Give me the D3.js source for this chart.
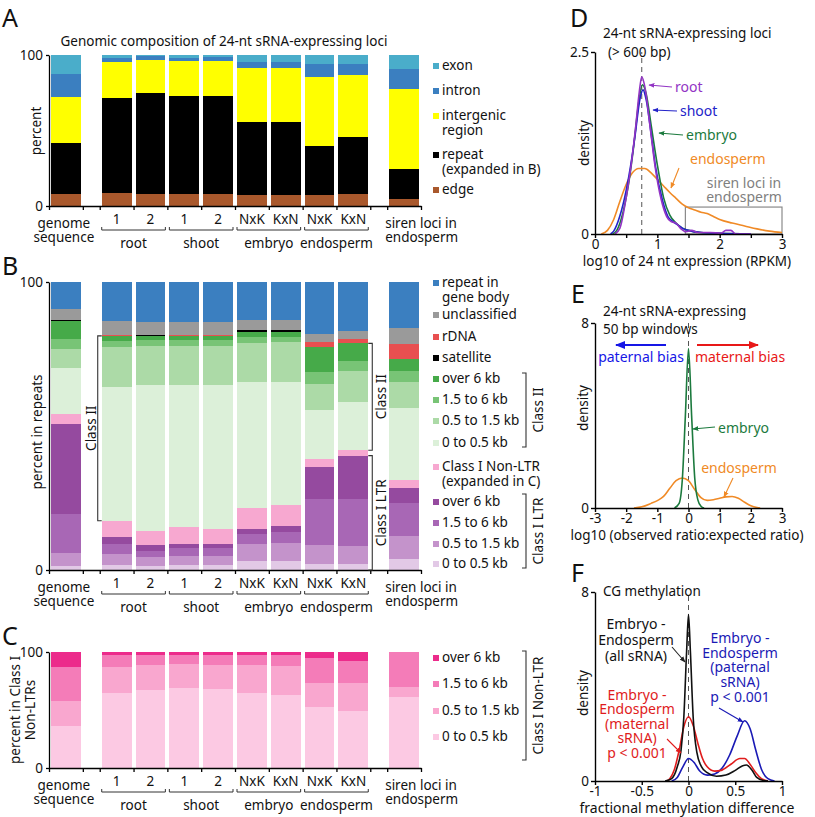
<!DOCTYPE html>
<html><head><meta charset="utf-8">
<script src="https://cdn.jsdelivr.net/npm/d3@7"></script>
<style>body{margin:0;background:#fff} svg text{font-family:"Noto Sans",sans-serif;}</style>
</head><body><svg id="c" width="815" height="817"></svg>
<script>
// ---------- DATA ----------
const categories = ["genome sequence","root 1","root 2","shoot 1","shoot 2","embryo NxK","embryo KxN","endosperm NxK","endosperm KxN","siren loci in endosperm"];
const tickLabels = ["","1","2","1","2","NxK","KxN","NxK","KxN",""];
const groupLabels = ["root","shoot","embryo","endosperm"];

// Panel A (percent, bottom to top)
const aEdge       = [7.7, 8.6, 7.7, 7.7, 7.7, 7.1, 7.1, 7.1, 7.7, 4.6];
const aRepeat     = [33.7,63.1,67.1,65.3,65.3,48.7,48.2,32.7,38.3,20.2];
const aIntergenic = [30.9,23.4,21.9,23.0,22.8,35.8,36.3,45.6,40.7,52.6];
const aIntron     = [15.1,2.7, 2.6, 2.2, 3.1, 3.5, 3.5, 8.4, 7.1, 13.3];
const aExon       = [12.6,2.2, 0.7, 1.8, 1.1, 4.9, 4.9, 6.2, 6.2, 9.3];
const aLegend = ["exon","intron","intergenic|region","repeat|(expanded in B)","edge"];

// Panel B (percent in repeats, bottom to top)
const bLTR0   = [1.4, 1.7, 1.4, 1.7, 1.7, 3.0, 3.0, 2.1, 2.1, 3.8];
const bLTR05  = [4.4, 3.7, 3.2, 3.3, 3.3, 6.1, 6.5, 6.6, 6.2, 8.1];
const bLTR15  = [13.5,3.6, 2.0, 2.5, 2.5, 3.3, 3.7, 15.9,16.2,11.5];
const bLTR6   = [31.3,2.6, 2.1, 1.6, 1.6, 1.9, 2.1, 11.2,15.2,4.9];
const bNonLTR = [3.4, 5.5, 4.9, 5.7, 5.2, 7.4, 7.2, 2.7, 1.9, 2.9];
const bII0    = [16.2,46.6,50.6,49.4,49.9,43.5,42.7,17.0,16.7,25.2];
const bII05   = [6.6, 13.9,13.7,13.5,13.7,13.6,14.0,9.0, 10.7,8.9];
const bII15   = [3.3, 1.9, 2.0, 2.1, 2.0, 2.2, 1.8, 4.2, 3.6, 3.7];
const bII6    = [6.4, 1.8, 1.3, 1.6, 1.5, 1.8, 1.8, 8.9, 6.1, 4.1];
const bSat    = [0.3, 0,   0.3, 0,   0,   0.4, 0.4, 0,   0,   0];
const bRDNA   = [0,   0.4, 0,   0.3, 0.3, 0,   0,   1.6, 1.4, 5.4];
const bUncl   = [3.7, 4.8, 4.5, 4.3, 4.3, 3.7, 3.7, 2.8, 2.9, 5.5];
const bGene   = [9.5, 13.5,14.0,14.0,14.0,13.1,13.1,18.0,17.0,16.0];
const bLegend = ["repeat in|gene body","unclassified","rDNA","satellite","over 6 kb","1.5 to 6 kb","0.5 to 1.5 kb","0 to 0.5 kb","Class I Non-LTR|(expanded in C)","over 6 kb","1.5 to 6 kb","0.5 to 1.5 kb","0 to 0.5 kb"];

// Panel C (percent in Class I Non-LTRs, bottom to top)
const c0  = [36.3,64.9,66.9,68.6,67.7,64.9,62.9,52.9,49.1,61.0];
const c05 = [21.7,22.0,22.0,20.8,21.2,24.0,24.8,20.0,23.8,8.6];
const c15 = [28.9,10.5,8.5, 8.0, 8.5, 8.5, 9.7, 21.7,19.1,30.4];
const c6  = [13.1,2.6, 2.6, 2.6, 2.6, 2.6, 2.6, 5.4, 8.0, 0];
const cLegend = ["over 6 kb","1.5 to 6 kb","0.5 to 1.5 kb","0 to 0.5 kb"];

// Panel D density curves [log10 RPKM, density]
const dRoot = [[0.32,0],[0.4,0.08],[0.5,0.5],[0.58,0.95],[0.65,1.45],[0.71,1.95],[0.75,2.16],[0.8,2.02],[0.88,1.5],[0.96,0.95],[1.06,0.48],[1.15,0.24],[1.22,0.17],[1.3,0.15],[1.38,0.07],[1.46,0.03],[1.55,0.05],[1.65,0.02],[1.85,0.02],[2.02,0.01],[2.1,0.05],[2.18,0.05],[2.26,0.0],[2.5,0]];
const dShoot = [[0.25,0],[0.3,0.04],[0.4,0.25],[0.5,0.6],[0.57,0.93],[0.65,1.4],[0.72,1.85],[0.77,1.98],[0.82,1.85],[0.9,1.38],[0.97,0.93],[1.08,0.47],[1.17,0.24],[1.25,0.17],[1.32,0.13],[1.4,0.08],[1.5,0.05],[1.7,0.02],[2.0,0.01],[2.5,0]];
const dEmbryo = [[0.28,0],[0.35,0.05],[0.45,0.3],[0.55,0.75],[0.62,1.2],[0.7,1.8],[0.76,2.05],[0.82,1.93],[0.9,1.5],[1.0,0.95],[1.1,0.5],[1.2,0.26],[1.3,0.15],[1.4,0.08],[1.5,0.05],[1.7,0.02],[2.0,0.01],[2.5,0]];
const dEndosperm = [[0.1,0],[0.2,0.05],[0.3,0.2],[0.4,0.45],[0.5,0.68],[0.6,0.84],[0.7,0.9],[0.8,0.9],[0.9,0.84],[1.0,0.75],[1.1,0.66],[1.2,0.57],[1.3,0.49],[1.4,0.41],[1.5,0.36],[1.6,0.33],[1.7,0.3],[1.8,0.28],[1.9,0.24],[2.0,0.2],[2.2,0.15],[2.4,0.11],[2.6,0.07],[2.8,0.04],[3.0,0.02]];
const dSirenBox = [1.45, 3.0, 0.37];

// Panel E density curves [log10 ratio, density]
const eEmbryo = [[-0.45,0],[-0.3,0.2],[-0.2,1.2],[-0.1,4.0],[0,6.9],[0.1,4.0],[0.2,1.3],[0.3,0.35],[0.4,0.08],[0.5,0]];
const eEndosperm = [[-1.75,0],[-1.5,0.05],[-1.2,0.2],[-1.0,0.32],[-0.8,0.5],[-0.6,0.85],[-0.4,1.18],[-0.2,1.3],[0,1.18],[0.2,0.8],[0.4,0.45],[0.6,0.33],[0.8,0.36],[1.0,0.42],[1.2,0.48],[1.4,0.5],[1.6,0.42],[1.8,0.25],[2.0,0.1],[2.2,0.02],[2.3,0]];

// Panel F density curves [methylation difference, density]
const fAll = [[-0.25,0],[-0.18,0.1],[-0.12,0.6],[-0.08,1.3],[-0.05,2.7],[-0.02,5.5],[0,7.05],[0.02,5.5],[0.05,2.7],[0.09,1.2],[0.14,0.6],[0.2,0.35],[0.3,0.2],[0.4,0.25],[0.5,0.45],[0.58,0.65],[0.62,0.68],[0.68,0.45],[0.73,0.15],[0.8,0.02],[0.85,0]];
const fMaternal = [[-0.24,0],[-0.2,0.1],[-0.15,0.5],[-0.1,1.3],[-0.05,2.3],[0,2.72],[0.05,2.35],[0.1,1.6],[0.15,0.95],[0.2,0.6],[0.28,0.42],[0.35,0.45],[0.45,0.7],[0.55,0.95],[0.6,0.95],[0.66,0.7],[0.72,0.35],[0.78,0.1],[0.85,0]];
const fPaternal = [[-0.18,0],[-0.12,0.15],[-0.06,0.6],[0,0.95],[0.06,0.78],[0.12,0.42],[0.2,0.25],[0.28,0.3],[0.36,0.55],[0.44,1.1],[0.52,1.9],[0.6,2.55],[0.66,2.2],[0.72,1.3],[0.78,0.5],[0.85,0.1],[0.92,0]];

// ---------- DRAWING ----------
const svg = d3.select("#c");
const FONT = '"Noto Sans", sans-serif';
const defs = svg.append("defs");
function marker(id, color, size){
  defs.append("marker").attr("id",id).attr("viewBox","0 0 10 10").attr("refX",9).attr("refY",5)
    .attr("markerWidth",size).attr("markerHeight",size).attr("orient","auto-start-reverse")
    .attr("markerUnits","userSpaceOnUse")
    .append("path").attr("d","M0,1 L10,5 L0,9 Z").attr("fill",color);
}
function txt(x,y,s,opt={}){
  const t = svg.append("text").attr("x",x).attr("y",y).text(s)
    .attr("font-size",opt.size||13.5).attr("fill",opt.color||"#111")
    .attr("text-anchor",opt.anchor||"start");
  if(opt.rot) t.attr("transform",`rotate(-90,${x},${y})`).attr("dominant-baseline","central");
  return t;
}

// x scale in slot units
const x = d3.scaleLinear().domain([0,11]).range([49,421]);
const slot = i => i===0 ? 0 : (i===9 ? 10 : i+0.5);

function stackedPanel(series, colors, y){
  const keys = series.map((s,j)=>"k"+j);
  const rows = categories.map((c,i)=>{const r={cat:c}; series.forEach((s,j)=>r["k"+j]=s[i]); return r;});
  const st = d3.stack().keys(keys)(rows);
  svg.append("g").selectAll("g").data(st).join("g").attr("fill",(d,j)=>colors[j])
    .selectAll("rect").data(d=>d).join("rect")
    .attr("x",(d,i)=>x(slot(i))+2).attr("width",x(1)-x(0)-4)
    .attr("y",d=>y(d[1])).attr("height",d=>Math.max(0,y(d[0])-y(d[1])))
    .attr("shape-rendering","crispEdges");
  const ya = svg.append("g").attr("transform",`translate(${x(0)},0)`)
    .call(d3.axisLeft(y).tickValues([0,100]).tickSize(3).tickSizeOuter(0).tickPadding(3));
  ya.attr("font-family",FONT).attr("font-size",13.5);
  ya.selectAll("path,line").attr("stroke","#000").attr("stroke-width",1.3);
  ya.selectAll("text").attr("fill","#111");
  const bounds = [0,1,1.5,2.5,3.5,4.5,5.5,6.5,7.5,8.5,9.5,10,11];
  const base = y(0);
  const xa = svg.append("g").attr("transform",`translate(0,${base})`)
    .call(d3.axisBottom(x).tickValues(bounds).tickFormat("").tickSize(4).tickSizeOuter(0));
  xa.selectAll("path,line").attr("stroke","#000").attr("stroke-width",1.3);
  for(let i=1;i<=8;i++) txt(x(slot(i)+0.5), base+18, tickLabels[i], {anchor:"middle"});
  txt(x(0.5)-2, base+22, "genome", {anchor:"middle"});
  txt(x(0.5)-2, base+36, "sequence", {anchor:"middle"});
  txt(x(10)-2, base+22, "siren loci in");
  txt(x(10)-2, base+36, "endosperm");
  groupLabels.forEach((g,k)=>{
    const x0 = x(slot(1+2*k))+2, x1 = x(slot(2+2*k)+1)-2, yy = base+24;
    svg.append("path").attr("d",`M${x0},${yy-3}V${yy}H${x1}V${yy-3}`).attr("fill","none").attr("stroke","#333").attr("stroke-width",1);
    txt((x0+x1)/2, base+42, g, {anchor:"middle"});
  });
}
function legend(items, colors, x0, ys){
  items.forEach((it,i)=>{
    const lines = it.split("|");
    svg.append("rect").attr("x",x0).attr("y",ys[i]-2).attr("width",6).attr("height",6).attr("fill",colors[i]);
    lines.forEach((l,k)=>txt(x0+9, ys[i]+5+k*14.5, l));
  });
}
function bracket(xb, y0, y1, dir, label, tx){
  svg.append("path").attr("d",`M${xb+dir*4},${y0}H${xb}V${y1}H${xb+dir*4}`).attr("fill","none").attr("stroke","#333").attr("stroke-width",1.1);
  txt(tx, (y0+y1)/2, label, {anchor:"middle", rot:true});
}

// ===== Panel A =====
txt(2,27,"A",{size:25});
txt(224,46,"Genomic composition of 24-nt sRNA-expressing loci",{anchor:"middle",size:13.5});
const yA = d3.scaleLinear().domain([0,100]).range([206,55]);
const aColors = ["#a9582c","#000000","#ffff00","#3b7fc0","#4aadca"];
stackedPanel([aEdge,aRepeat,aIntergenic,aIntron,aExon], aColors, yA);
txt(36,131,"percent",{anchor:"middle",rot:true});
legend(aLegend, aColors.slice().reverse(), 433, [65,90,115,154,189]);

// ===== Panel B =====
txt(2,275,"B",{size:25});
const yB = d3.scaleLinear().domain([0,100]).range([570,282]);
const bColors = ["#e2c9e6","#c493cb","#a867b5","#954a9f","#f7a8d0","#dcf0d9","#acdaa7","#78c476","#46aa49","#000000","#e84f50","#9a9a9a","#3b7fc0"];
const bSeries = [bLTR0,bLTR05,bLTR15,bLTR6,bNonLTR,bII0,bII05,bII15,bII6,bSat,bRDNA,bUncl,bGene];
stackedPanel(bSeries, bColors, yB);
txt(37,432,"percent in repeats",{anchor:"middle",rot:true});
legend(bLegend, bColors.slice().reverse(), 433, [282,314,336,357,378,399,420,442,466,501,522,543,563]);
const cum = (i,n)=>bSeries.slice(0,n).reduce((s,a)=>s+a[i],0);
bracket(x(1.5)-2, yB(cum(1,9)), yB(cum(1,5)), 1, "Class II", 91);
bracket(x(9.5)+2, yB(cum(8,9)), yB(cum(8,5)), -1, "Class II", 381);
bracket(x(9.5)+2, yB(cum(8,4)), yB(0), -1, "Class I LTR", 381);
bracket(526, 373, 447, -1, "Class II", 538);
bracket(526, 494, 568, -1, "Class I LTR", 538);

// ===== Panel C =====
txt(2,645,"C",{size:25});
const yC = d3.scaleLinear().domain([0,100]).range([768,652]);
const cColors = ["#fcc9e3","#f9a7cf","#f47cb8","#ec2b8b"];
stackedPanel([c0,c05,c15,c6], cColors, yC);
txt(15,710,"percent in Class I",{anchor:"middle",rot:true});
txt(30,710,"Non-LTRs",{anchor:"middle",rot:true});
legend(cLegend, cColors.slice().reverse(), 433, [657,683,710,736]);
bracket(526, 651, 760, -1, "Class I Non-LTR", 538);

// ===== density panels =====
function densityAxes(xs, ys, xticks, xlabelTicks, ytop){
  const base = ys(0);
  const xa = svg.append("g").attr("transform",`translate(0,${base})`)
    .call(d3.axisBottom(xs).tickValues(xticks).tickSize(4).tickSizeOuter(0).tickPadding(1)
      .tickFormat(d=> xlabelTicks.includes(d) ? String(d).replace("-","\u2212").replace("\u2212","-") : ""));
  xa.attr("font-family",FONT).attr("font-size",13.5);
  xa.selectAll("path,line").attr("stroke","#000").attr("stroke-width",1.4);
  xa.selectAll("text").attr("fill","#111");
  const ya = svg.append("g").attr("transform",`translate(${xs.range()[0]},0)`)
    .call(d3.axisLeft(ys).tickValues([0,ytop]).tickFormat(d=>String(d)).tickSize(4).tickSizeOuter(0).tickPadding(2));
  ya.attr("font-family",FONT).attr("font-size",13.5);
  ya.selectAll("path,line").attr("stroke","#000").attr("stroke-width",1.4);
  ya.selectAll("text").attr("fill","#111");
}
function curve(data, xs, ys, color, w){
  svg.append("path").datum(data).attr("fill","none").attr("stroke",color).attr("stroke-width",w||1.6)
    .attr("d", d3.line().x(d=>xs(d[0])).y(d=>ys(d[1])).curve(d3.curveMonotoneX));
}
function dashed(xs, ys, v, top){
  svg.append("line").attr("x1",xs(v)).attr("x2",xs(v)).attr("y1",ys(0)).attr("y2",ys(top))
    .attr("stroke","#555").attr("stroke-width",1).attr("stroke-dasharray","5,4");
}
function arrow(x1,y1,x2,y2,color,id,w){
  svg.append("line").attr("x1",x1).attr("y1",y1).attr("x2",x2).attr("y2",y2)
    .attr("stroke",color).attr("stroke-width",w||1.1).attr("marker-end",`url(#${id})`);
}
const PUR="#9234c4", BLU="#2323c9", GRN="#1c7a3e", ORG="#f08a26";
marker("mPur",PUR,6); marker("mBlu",BLU,6); marker("mGrn",GRN,6); marker("mOrg",ORG,6);
marker("mBlk","#222",6); marker("mRed","#e01c1c",6); marker("mBlu2","#1a1ab5",6);
marker("mBigB","#1616e6",10); marker("mBigR","#e81818",10);

// ===== Panel D =====
txt(570,27,"D",{size:25});
const xD = d3.scaleLinear().domain([0,3]).range([595,782]);
const yD = d3.scaleLinear().domain([0,2.5]).range([234,52]);
dashed(xD,yD,0.75,2.5);
svg.append("rect").attr("x",xD(dSirenBox[0])).attr("y",yD(dSirenBox[2]))
  .attr("width",xD(dSirenBox[1])-xD(dSirenBox[0])).attr("height",yD(0)-yD(dSirenBox[2]))
  .attr("fill","none").attr("stroke","#8a8a8a").attr("stroke-width",1.2);
curve(dEndosperm,xD,yD,ORG);
curve(dEmbryo,xD,yD,GRN);
curve(dShoot,xD,yD,BLU);
curve(dRoot,xD,yD,PUR);
densityAxes(xD,yD,[0,0.5,1,1.5,2,2.5,3],[0,1,2,3],2.5);
txt(603,38,"24-nt sRNA-expressing loci",{size:13.5});
txt(608,57,"(> 600 bp)",{size:13.5});
txt(584,143,"density",{anchor:"middle",rot:true});
txt(687,266,"log10 of 24 nt expression (RPKM)",{anchor:"middle",size:13.5});
txt(675,92,"root",{color:PUR,size:14});
txt(680,116,"shoot",{color:BLU,size:14});
txt(686,140,"embryo",{color:GRN,size:14});
txt(690,164,"endosperm",{color:ORG,size:14});
arrow(672,87,649,85,PUR,"mPur");
arrow(677,111,653,110,BLU,"mBlu");
arrow(683,135,659,133,GRN,"mGrn");
arrow(679,168,671,188,ORG,"mOrg");
txt(744,188,"siren loci in",{anchor:"middle",color:"#808080",size:14});
txt(744,202,"endosperm",{anchor:"middle",color:"#808080",size:14});

// ===== Panel E =====
txt(571,303,"E",{size:25});
const xE = d3.scaleLinear().domain([-3,3]).range([595,782]);
const yE = d3.scaleLinear().domain([0,8]).range([508,323]);
dashed(xE,yE,0,8);
curve(eEndosperm,xE,yE,ORG);
curve(eEmbryo,xE,yE,GRN);
densityAxes(xE,yE,[-3,-2,-1,0,1,2,3],[-3,-2,-1,0,1,2,3],8);
txt(603,316,"24-nt sRNA-expressing",{size:13.5});
txt(603,334,"50 bp windows",{size:13.5});
txt(583,408,"density",{anchor:"middle",rot:true});
txt(687,540,"log10 (observed ratio:expected ratio)",{anchor:"middle",size:13.5});
arrow(666,345,616,345,"#1616e6","mBigB",2.2);
arrow(697,345,758,345,"#e81818","mBigR",2.2);
txt(641,362,"paternal bias",{anchor:"middle",color:"#1616e6",size:14});
txt(740,362,"maternal bias",{anchor:"middle",color:"#e81818",size:14});
txt(718,433,"embryo",{color:GRN,size:14});
arrow(715,427,693,429,GRN,"mGrn");
txt(739,473,"endosperm",{anchor:"middle",color:ORG,size:14});
arrow(733,478,724,497,ORG,"mOrg");

// ===== Panel F =====
txt(571,582,"F",{size:25});
const xF = d3.scaleLinear().domain([-1,1]).range([595,782]);
const yF = d3.scaleLinear().domain([0,8]).range([781,592]);
dashed(xF,yF,0,8);
curve(fPaternal,xF,yF,"#1a1ab5");
curve(fMaternal,xF,yF,"#e01c1c");
curve(fAll,xF,yF,"#111");
densityAxes(xF,yF,[-1,-0.5,0,0.5,1],[-1,-0.5,0,0.5,1],8);
txt(603,596,"CG methylation",{size:13.5});
txt(583,693,"density",{anchor:"middle",rot:true});
txt(687,813,"fractional methylation difference",{anchor:"middle",size:14});
["Embryo -","Endosperm","(all sRNA)"].forEach((l,k)=>txt(636,629+k*16,l,{anchor:"middle",size:14}));
arrow(672,647,685,662,"#222","mBlk");
["Embryo -","Endosperm","(maternal","sRNA)","p < 0.001"].forEach((l,k)=>txt(637,700+k*14.4,l,{anchor:"middle",size:14,color:"#e01c1c"}));
arrow(667,739,681,753,"#e01c1c","mRed");
["Embryo -","Endosperm","(paternal","sRNA)","p < 0.001"].forEach((l,k)=>txt(740,643+k*14.7,l,{anchor:"middle",size:14,color:"#1a1ab5"}));
arrow(719,708,743,722,"#1a1ab5","mBlu2");
</script></body></html>
